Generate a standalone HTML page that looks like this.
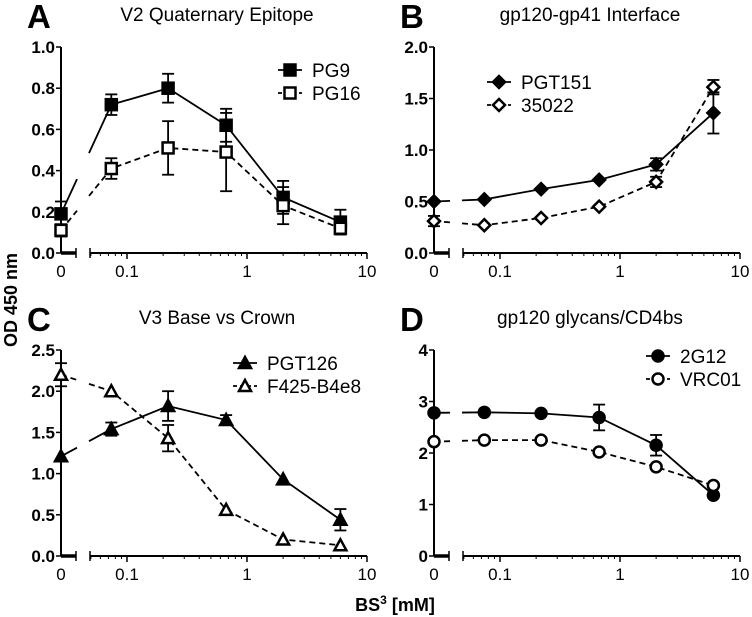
<!DOCTYPE html>
<html><head><meta charset="utf-8"><style>
body{margin:0;background:#fff}
svg{display:block;font-family:"Liberation Sans",Arial,sans-serif}
</style></head><body>
<svg id="fig" width="752" height="617" viewBox="0 0 752 617">
<text x="12" y="300" transform="rotate(-90 12 300)" text-anchor="middle" font-size="18" font-weight="bold" dominant-baseline="middle">OD 450 nm</text>
<text x="395" y="611" text-anchor="middle" font-size="18" font-weight="bold">BS<tspan dy="-7" font-size="12">3</tspan><tspan dy="7"> [mM]</tspan></text>
</svg>
<script>
const xVals=[0,0.074,0.22,0.67,2,6];
const aPG9=[0.19,0.72,0.80,0.62,0.27,0.15], aPG9Err=[0.06,0.05,0.07,0.08,0.08,0.06];
const aPG16=[0.11,0.41,0.51,0.49,0.23,0.12], aPG16Err=[0.03,0.05,0.13,0.19,0.09,0.03];
const bPGT151=[0.50,0.52,0.62,0.71,0.86,1.36], bPGT151Err=[0,0,0,0,0.06,0.2];
const b35022=[0.31,0.27,0.34,0.45,0.69,1.61], b35022Err=[0.05,0,0,0,0.05,0.07];
const cPGT126=[1.21,1.54,1.82,1.65,0.93,0.44], cPGT126Err=[0,0.08,0.18,0.06,0,0.13];
const cF425=[2.20,2.00,1.43,0.56,0.20,0.13], cF425Err=[0.14,0,0.16,0,0,0];
const d2G12=[2.78,2.79,2.77,2.69,2.15,1.18], d2G12Err=[0,0,0,0.25,0.2,0];
const dVRC01=[2.22,2.25,2.25,2.02,1.73,1.37], dVRC01Err=[0,0,0,0,0,0];
const aTicks=["0.0","0.2","0.4","0.6","0.8","1.0"], bTicks=["0.0","0.5","1.0","1.5","2.0"];
const cTicks=["0.0","0.5","1.0","1.5","2.0","2.5"], dTicks=["0","1","2","3","4"];
const NS="http://www.w3.org/2000/svg", svg=document.getElementById('fig');
function el(t,a,p){const e=document.createElementNS(NS,t);for(const k in a)e.setAttribute(k,a[k]);(p||svg).appendChild(e);return e;}
function panel(o){
  const g=el('g',{});
  
  
  const ax=o.ax, yT=o.yT, yB=o.yB, ymax=o.ymax;
  const Y=v=>yB-(v/ymax)*(yB-yT);
  const logStart=ax+29, x01=ax+66, dec=120;
  const X=v=>v===0?ax:x01+(Math.log10(v)+1)*dec;
  let t=el('text',{x:ax-34,y:yT-19,'font-size':33,'font-weight':'bold'},g);t.textContent=o.id;
  
  t=el('text',{x:ax+156,y:yT-26,'font-size':19,'text-anchor':'middle'},g);t.textContent=o.title;
  
  const ya=el('line',{x1:ax,y1:yT,x2:ax,y2:yB,stroke:'#000','stroke-width':2},g);
  
  o.ticks.forEach((s,i)=>{const v=parseFloat(s);const y=Y(v);
    el('line',{x1:ax-5,y1:y,x2:ax,y2:y,stroke:'#000','stroke-width':1.5},g);
    const tt=el('text',{x:ax-6,y:y+6,'font-size':17,'text-anchor':'end','font-weight':'bold'},g);tt.textContent=s;
    });
  el('line',{x1:ax,y1:yB,x2:ax+15,y2:yB,stroke:'#000','stroke-width':3.5},g);
  el('line',{x1:ax+15,y1:yB-5,x2:ax+15,y2:yB+5,stroke:'#000','stroke-width':1.5},g);
  const xa=el('line',{x1:logStart,y1:yB,x2:X(10),y2:yB,stroke:'#000','stroke-width':2},g);
  
  el('line',{x1:logStart,y1:yB-5,x2:logStart,y2:yB+5,stroke:'#000','stroke-width':1.5},g);
  [0.05,0.06,0.07,0.08,0.09,0.2,0.3,0.4,0.5,0.6,0.7,0.8,0.9,2,3,4,5,6,7,8,9].forEach(v=>
    el('line',{x1:X(v),y1:yB,x2:X(v),y2:yB+3,stroke:'#000','stroke-width':1},g));
  [[0,'0'],[0.1,'0.1'],[1,'1'],[10,'10']].forEach(([v,s])=>{
    if(v>0)el('line',{x1:X(v),y1:yB,x2:X(v),y2:yB+6,stroke:'#000','stroke-width':1.5},g);
    const tt=el('text',{x:X(v),y:yB+24,'font-size':17,'text-anchor':'middle'},g);tt.textContent=s;
    });
  o.series.forEach((s,si)=>{
    const sg=el('g',{},g);
    
    
    const pts=xVals.map((x,i)=>[X(x),Y(s.v[i])]);
    const gx0=ax+16, gx1=logStart-1;
    const [x0,y0]=pts[0],[x1,y1]=pts[1];
    const yi=x=>y0+(y1-y0)*(x-x0)/(x1-x0);
    const dash=s.dash?'6,4':'none';
    el('line',{x1:x0,y1:y0,x2:gx0,y2:yi(gx0),stroke:'#000','stroke-width':1.8,'stroke-dasharray':dash},sg);
    el('polyline',{points:[[gx1,yi(gx1)]].concat(pts.slice(1)).map(p=>p.join(',')).join(' '),fill:'none',stroke:'#000','stroke-width':1.8,'stroke-dasharray':dash},sg);
    pts.forEach((p,i)=>{const e=s.e[i];
      if(e>0){const a=Y(s.v[i]+e),b=Y(s.v[i]-e);
        el('line',{x1:p[0],y1:a,x2:p[0],y2:b,stroke:'#000','stroke-width':1.8},sg);
        el('line',{x1:p[0]-6,y1:a,x2:p[0]+6,y2:a,stroke:'#000','stroke-width':1.8},sg);
        el('line',{x1:p[0]-6,y1:b,x2:p[0]+6,y2:b,stroke:'#000','stroke-width':1.8},sg);}
      const m=marker(s.m,s.fill,p[0],p[1],sg);
      
      });
    const lx=o.lx, ly=o.ly+si*23;
    const lg=el('g',{},g);
    
    
    el('line',{x1:lx-12,y1:ly,x2:lx+12,y2:ly,stroke:'#000','stroke-width':1.8,'stroke-dasharray':s.dash?'4,3':'none'},lg);
    marker(s.m,s.fill,lx,ly,lg);
    const lt=el('text',{x:lx+22,y:ly+7,'font-size':19},lg);lt.textContent=s.name;
  });
}
function marker(type,fill,x,y,p){
  const f=fill?'#000':'#fff', a={fill:f,stroke:'#000','stroke-width':2.5};
  if(type==='sq')return el('rect',Object.assign({x:x-5.5,y:y-5.5,width:11,height:11},a),p);
  if(type==='di')return el('polygon',Object.assign({points:`${x},${y-6} ${x+6},${y} ${x},${y+6} ${x-6},${y}`},a),p);
  if(type==='tr')return el('polygon',Object.assign({points:`${x},${y-6} ${x+6},${y+5} ${x-6},${y+5}`},a),p);
  return el('circle',Object.assign({cx:x,cy:y,r:5.5},a),p);
}
panel({id:'A',title:'V2 Quaternary Epitope',ax:61,yT:47,yB:253,ymax:1.0,ticks:aTicks,lx:290,ly:70,series:[
 {name:'PG9',v:aPG9,e:aPG9Err,m:'sq',fill:true,dash:false},{name:'PG16',v:aPG16,e:aPG16Err,m:'sq',fill:false,dash:true}]});
panel({id:'B',title:'gp120-gp41 Interface',ax:434,yT:47,yB:253,ymax:2.0,ticks:bTicks,lx:499,ly:82,series:[
 {name:'PGT151',v:bPGT151,e:bPGT151Err,m:'di',fill:true,dash:false},{name:'35022',v:b35022,e:b35022Err,m:'di',fill:false,dash:true}]});
panel({id:'C',title:'V3 Base vs Crown',ax:61,yT:350,yB:556,ymax:2.5,ticks:cTicks,lx:245,ly:363,series:[
 {name:'PGT126',v:cPGT126,e:cPGT126Err,m:'tr',fill:true,dash:false},{name:'F425-B4e8',v:cF425,e:cF425Err,m:'tr',fill:false,dash:true}]});
panel({id:'D',title:'gp120 glycans/CD4bs',ax:434,yT:350,yB:556,ymax:4,ticks:dTicks,lx:658,ly:356,series:[
 {name:'2G12',v:d2G12,e:d2G12Err,m:'ci',fill:true,dash:false},{name:'VRC01',v:dVRC01,e:dVRC01Err,m:'ci',fill:false,dash:true}]});
</script>
</body></html>
